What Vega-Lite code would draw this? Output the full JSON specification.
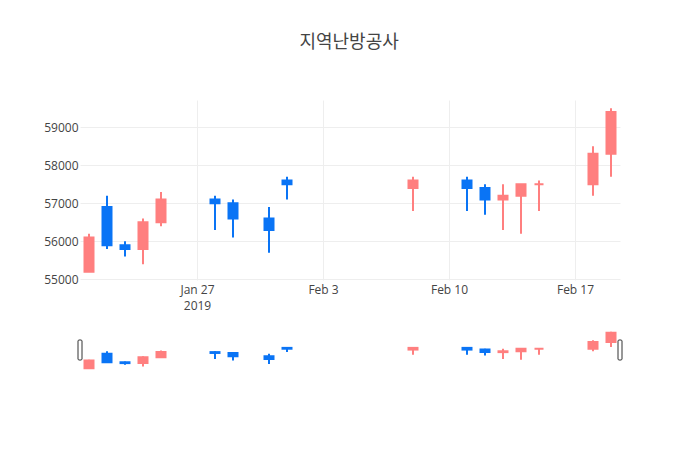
{
  "$schema": "https://vega.github.io/schema/vega-lite/v6.json",
  "padding": {"left": 43, "top": 34, "right": 10, "bottom": 10},
  "background": "white",
  "title": {"text": "지역난방공사", "fontSize": 18, "fontWeight": "normal", "color": "#444", "font": "Noto Sans CJK KR", "anchor": "middle", "offset": 48, "dx": 16},
  "config": {
    "font": "Open Sans",
    "view": {"stroke": null},
    "scale": {"continuousPadding": 0},
    "axis": {"labelColor": "#444", "labelFontSize": 12, "labelFont": "Open Sans", "domain": false, "ticks": false, "gridColor": "#eeeeee", "gridWidth": 1, "title": null}
  },
  "datasets": {
    "prices": [
      {"date": "2019-01-21", "open": 55200, "high": 56200, "low": 55200, "close": 56100},
      {"date": "2019-01-22", "open": 56900, "high": 57200, "low": 55800, "close": 55900},
      {"date": "2019-01-23", "open": 55900, "high": 56000, "low": 55600, "close": 55800},
      {"date": "2019-01-24", "open": 55800, "high": 56600, "low": 55400, "close": 56500},
      {"date": "2019-01-25", "open": 56500, "high": 57300, "low": 56400, "close": 57100},
      {"date": "2019-01-28", "open": 57100, "high": 57200, "low": 56300, "close": 57000},
      {"date": "2019-01-29", "open": 57000, "high": 57100, "low": 56100, "close": 56600},
      {"date": "2019-01-31", "open": 56600, "high": 56900, "low": 55700, "close": 56300},
      {"date": "2019-02-01", "open": 57600, "high": 57700, "low": 57100, "close": 57500},
      {"date": "2019-02-08", "open": 57400, "high": 57700, "low": 56800, "close": 57600},
      {"date": "2019-02-11", "open": 57600, "high": 57700, "low": 56800, "close": 57400},
      {"date": "2019-02-12", "open": 57400, "high": 57500, "low": 56700, "close": 57100},
      {"date": "2019-02-13", "open": 57100, "high": 57500, "low": 56300, "close": 57200},
      {"date": "2019-02-14", "open": 57200, "high": 57500, "low": 56200, "close": 57500},
      {"date": "2019-02-15", "open": 57500, "high": 57600, "low": 56800, "close": 57500},
      {"date": "2019-02-18", "open": 57500, "high": 58500, "low": 57200, "close": 58300},
      {"date": "2019-02-19", "open": 58300, "high": 59500, "low": 57700, "close": 59400}
    ],
    "range": [
      {"date": "2019-01-20T12:00:00Z"},
      {"date": "2019-02-19T12:00:00Z"}
    ]
  },
  "vconcat": [
    {
      "width": 540,
      "height": 180,
      "data": {"name": "prices"},
      "encoding": {
        "x": {
          "field": "date", "type": "temporal",
          "scale": {"type": "utc", "padding": 0, "domain": [{"year": 2019, "month": 1, "date": 20, "hours": 12, "utc": true}, {"year": 2019, "month": 2, "date": 19, "hours": 12, "utc": true}]},
          "axis": {
            "values": [{"year": 2019, "month": 1, "date": 27, "utc": true}, {"year": 2019, "month": 2, "date": 3, "utc": true}, {"year": 2019, "month": 2, "date": 10, "utc": true}, {"year": 2019, "month": 2, "date": 17, "utc": true}],
            "labelExpr": "datum.index == 0 ? [utcFormat(datum.value, '%b %-d'), '2019'] : utcFormat(datum.value, '%b %-d')",
            "labelPadding": 4,
            "labelLineHeight": 16,
            "labelFlush": false
          }
        }
      },
      "layer": [
        {
          "mark": {"type": "rule", "strokeWidth": 2},
          "encoding": {
            "y": {"field": "low", "type": "quantitative", "scale": {"domain": [54985, 59715], "nice": false, "zero": false, "padding": 0}, "axis": {"values": [55000, 56000, 57000, 58000, 59000], "format": "d", "labelPadding": 2}},
            "y2": {"field": "high"},
            "stroke": {"condition": {"test": "datum.close >= datum.open", "value": "#ff7f7f"}, "value": "#0a74f5"}
          }
        },
        {
          "mark": {"type": "bar", "size": 9, "strokeWidth": 2},
          "encoding": {
            "y": {"field": "open", "type": "quantitative"},
            "y2": {"field": "close"},
            "fill": {"condition": {"test": "datum.close >= datum.open", "value": "#ff7f7f"}, "value": "#0a74f5"},
            "stroke": {"condition": {"test": "datum.close >= datum.open", "value": "#ff7f7f"}, "value": "#0a74f5"}
          }
        }
      ]
    },
    {
      "width": 540,
      "height": 40,
      "layer": [
        {
          "data": {"name": "prices"},
          "mark": {"type": "rule", "strokeWidth": 2},
          "encoding": {
            "x": {"field": "date", "type": "temporal", "scale": {"type": "utc", "padding": 0, "domain": [{"year": 2019, "month": 1, "date": 20, "hours": 12, "utc": true}, {"year": 2019, "month": 2, "date": 19, "hours": 12, "utc": true}]}, "axis": null},
            "y": {"field": "low", "type": "quantitative", "scale": {"domain": [54985, 59715], "nice": false, "zero": false, "padding": 0}, "axis": null},
            "y2": {"field": "high"},
            "stroke": {"condition": {"test": "datum.close >= datum.open", "value": "#ff7f7f"}, "value": "#0a74f5"}
          }
        },
        {
          "data": {"name": "prices"},
          "mark": {"type": "bar", "size": 9, "strokeWidth": 2},
          "encoding": {
            "x": {"field": "date", "type": "temporal"},
            "y": {"field": "open", "type": "quantitative"},
            "y2": {"field": "close"},
            "fill": {"condition": {"test": "datum.close >= datum.open", "value": "#ff7f7f"}, "value": "#0a74f5"},
            "stroke": {"condition": {"test": "datum.close >= datum.open", "value": "#ff7f7f"}, "value": "#0a74f5"}
          }
        },
        {
          "data": {"name": "range"},
          "mark": {"type": "tick", "orient": "vertical", "size": 20, "thickness": 4, "fill": "white", "stroke": "#333", "strokeWidth": 1, "opacity": 1, "cornerRadius": 1},
          "encoding": {
            "x": {"field": "date", "type": "temporal"}
          }
        }
      ]
    }
  ],
  "spacing": 50,
  "bounds": "flush"
}
